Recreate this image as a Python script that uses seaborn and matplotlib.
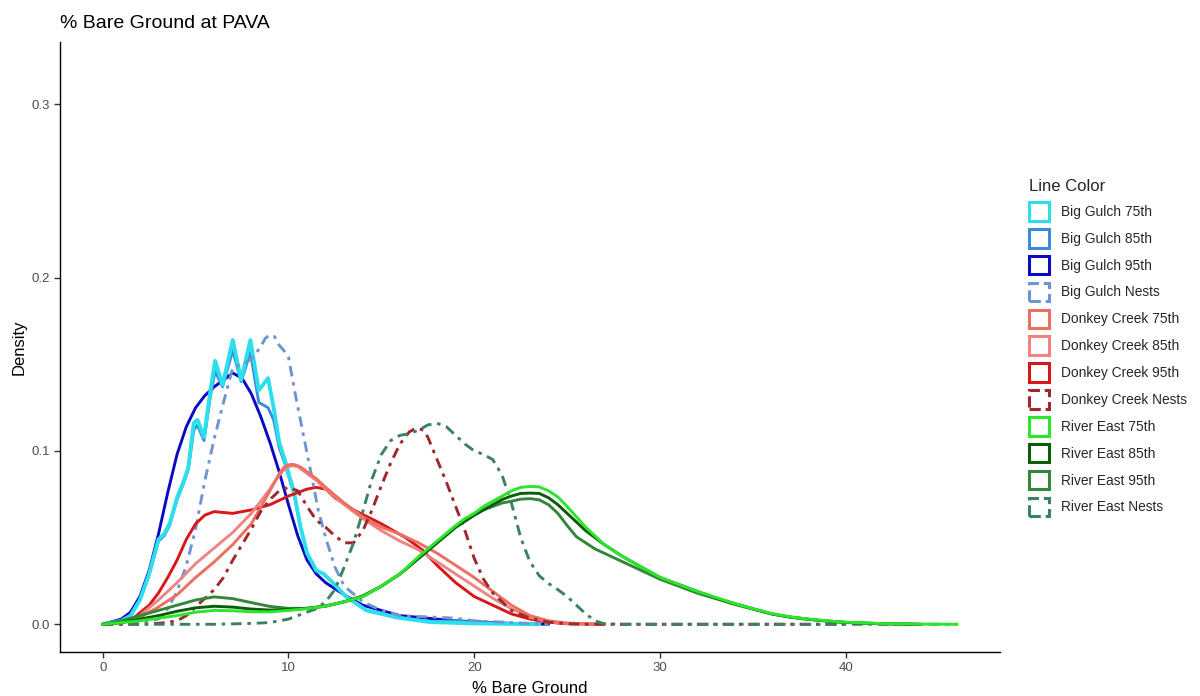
import matplotlib
matplotlib.use("Agg")
import matplotlib.pyplot as plt
from matplotlib.patches import Patch
import seaborn as sns
import pandas as pd

# ---------------- data ----------------
series_names = ["Big Gulch 75th", "Big Gulch 85th", "Big Gulch 95th", "Big Gulch Nests",
                "Donkey Creek 75th", "Donkey Creek 85th", "Donkey Creek 95th", "Donkey Creek Nests",
                "River East 75th", "River East 85th", "River East 95th", "River East Nests"]

bg75_x = [0, 1, 1.5, 2, 2.5, 3, 3.3, 3.6, 4, 4.3, 4.6, 4.9, 5.1, 5.45, 5.8, 6.05, 6.45, 7.0, 7.45, 7.95,
          8.4, 8.9, 9.2, 9.5, 9.8, 10.3, 10.65, 11.0, 11.5, 11.9, 12.3, 13.1, 14.2, 15.8, 17.6, 20, 23.5]
bg75_y = [0, 0.002, 0.005, 0.014, 0.029, 0.049, 0.052, 0.058, 0.073, 0.081, 0.09, 0.116, 0.118, 0.108,
          0.135, 0.152, 0.138, 0.164, 0.141, 0.164, 0.135, 0.142, 0.125, 0.105, 0.095, 0.076, 0.056,
          0.041, 0.031, 0.029, 0.025, 0.016, 0.008, 0.004, 0.0013, 0.0005, 0]

bg85_x = [0, 1, 1.5, 2, 2.5, 3, 3.3, 3.6, 4, 4.3, 4.6, 4.9, 5.1, 5.45, 5.8, 6.05, 6.45, 7.0, 7.45, 7.95,
          8.4, 8.9, 9.2, 9.5, 9.8, 10.3, 10.65, 11.0, 11.5, 11.9, 12.3, 13.1, 14.2, 15.8, 17.6, 19, 20, 23.5]
bg85_y = [0, 0.002, 0.005, 0.014, 0.029, 0.048, 0.051, 0.057, 0.072, 0.08, 0.089, 0.112, 0.115, 0.106,
          0.132, 0.146, 0.137, 0.158, 0.14, 0.157, 0.128, 0.125, 0.118, 0.102, 0.093, 0.075, 0.056,
          0.041, 0.031, 0.029, 0.025, 0.016, 0.008, 0.004, 0.0015, 0.002, 0.001, 0]

bg95_x = [0, 1, 1.5, 2, 2.5, 3, 3.5, 4, 4.5, 5, 5.5, 6, 6.5, 7, 7.5, 8, 8.5, 9, 9.5, 10, 10.5, 11,
          11.5, 12, 13, 14, 15, 16, 17, 18, 19, 20, 22, 24]
bg95_y = [0, 0.003, 0.007, 0.016, 0.031, 0.052, 0.076, 0.098, 0.114, 0.125, 0.132, 0.137, 0.141, 0.145,
          0.142, 0.133, 0.12, 0.105, 0.088, 0.069, 0.051, 0.037, 0.029, 0.024, 0.017, 0.011, 0.008,
          0.005, 0.004, 0.003, 0.002, 0.0015, 0.0005, 0]

bgn_x = [0, 1, 2, 3, 3.5, 4, 4.5, 5, 5.5, 6, 6.5, 7, 7.5, 8, 8.5, 8.75, 9, 9.25, 9.5, 9.75, 10, 10.4,
         10.75, 11.2, 11.6, 12, 12.5, 13, 14, 15, 16, 18, 19, 20, 22, 24]
bgn_y = [0, 0.0003, 0.001, 0.003, 0.009, 0.019, 0.034, 0.055, 0.083, 0.107, 0.128, 0.148, 0.15, 0.153,
         0.16, 0.165, 0.167, 0.166, 0.161, 0.158, 0.154, 0.131, 0.112, 0.088, 0.066, 0.05, 0.033,
         0.022, 0.013, 0.008, 0.005, 0.004, 0.0035, 0.002, 0.001, 0]

dc75_x = [0, 1, 2, 3, 4, 5, 6, 7, 8, 9, 9.5, 9.75, 10, 10.25, 10.5, 10.75, 11, 11.5, 12, 13, 14, 15,
          16, 17, 18, 19, 20, 21, 22, 23, 24, 25, 27]
dc75_y = [0, 0.001, 0.004, 0.01, 0.017, 0.027, 0.036, 0.046, 0.058, 0.077, 0.087, 0.0905, 0.092,
          0.0923, 0.0915, 0.09, 0.088, 0.084, 0.079, 0.07, 0.062, 0.056, 0.052, 0.047, 0.041, 0.034,
          0.027, 0.019, 0.011, 0.005, 0.002, 0.0007, 0]

dc85_x = [0, 1, 2, 3, 4, 5, 6, 7, 8, 9, 9.5, 9.75, 10, 10.25, 10.5, 10.75, 11, 11.5, 12, 13, 14, 15,
          16, 17, 18, 19, 20, 21, 22, 23, 24, 25, 27]
dc85_y = [0, 0.0015, 0.005, 0.014, 0.024, 0.035, 0.044, 0.053, 0.064, 0.078, 0.086, 0.089, 0.091,
          0.0915, 0.091, 0.089, 0.087, 0.083, 0.078, 0.069, 0.061, 0.054, 0.048, 0.043, 0.036,
          0.029, 0.022, 0.015, 0.009, 0.004, 0.0015, 0.0005, 0]

dc95_x = [0, 1, 1.7, 2.5, 3, 3.5, 4, 4.5, 5, 5.5, 6, 7, 8, 9, 10, 11, 11.5, 12, 12.5, 13.5, 15, 16.3,
          17.2, 18, 19, 20, 21, 22, 23, 24, 25, 27]
dc95_y = [0, 0.001, 0.004, 0.011, 0.018, 0.027, 0.037, 0.049, 0.058, 0.063, 0.065, 0.064, 0.066, 0.069,
          0.074, 0.078, 0.079, 0.078, 0.073, 0.066, 0.058, 0.05, 0.043, 0.034, 0.024, 0.016, 0.011,
          0.006, 0.003, 0.0012, 0.0003, 0]

dcn_x = [0, 2, 3, 4, 4.5, 5, 5.5, 6, 6.5, 7, 7.5, 8, 8.5, 9, 9.5, 10, 10.5, 11, 11.5, 12, 12.5, 13,
         13.5, 14, 14.5, 15, 15.5, 16, 16.5, 16.75, 17, 17.25, 17.5, 18, 18.5, 19, 19.5, 20, 20.5, 21,
         22, 23, 24, 25, 26, 40]
dcn_y = [0, 0, 0.0005, 0.002, 0.005, 0.01, 0.015, 0.02, 0.027, 0.037, 0.046, 0.055, 0.065, 0.072,
         0.077, 0.079, 0.077, 0.068, 0.06, 0.056, 0.051, 0.047, 0.047, 0.054, 0.066, 0.08, 0.093,
         0.104, 0.111, 0.1125, 0.113, 0.112, 0.108, 0.095, 0.082, 0.068, 0.054, 0.038, 0.026, 0.018,
         0.008, 0.0035, 0.0012, 0.0003, 0, 0]

re75_x = [0, 1, 2, 3, 4, 5, 6, 7, 8, 9, 10, 11, 12, 13, 14, 15, 16, 17, 18, 19, 19.5, 20, 20.5, 21,
          21.5, 22, 22.5, 23, 23.5, 24, 24.5, 25, 25.5, 26, 26.5, 27, 27.5, 28, 29, 30, 31, 32, 33, 34,
          35, 36, 37, 38, 39, 40, 42, 44, 46]
re75_y = [0, 0.001, 0.002, 0.0035, 0.005, 0.007, 0.008, 0.0078, 0.0072, 0.0072, 0.008, 0.009, 0.0105,
          0.013, 0.016, 0.022, 0.029, 0.039, 0.048, 0.057, 0.061, 0.064, 0.068, 0.071, 0.074, 0.077,
          0.079, 0.0795, 0.0793, 0.077, 0.0735, 0.068, 0.062, 0.056, 0.051, 0.046, 0.0425, 0.039,
          0.033, 0.027, 0.023, 0.019, 0.0155, 0.012, 0.009, 0.0062, 0.0043, 0.003, 0.002, 0.0012,
          0.0004, 0.0001, 0]

re85_x = [0, 1, 2, 3, 4, 5, 6, 7, 8, 9, 10, 11, 12, 13, 14, 15, 16, 17, 18, 19, 20, 20.5, 21, 21.5,
          22, 22.5, 23, 23.5, 24, 24.5, 25, 25.5, 26, 26.5, 27, 28, 29, 30, 31, 32, 33, 34, 35, 36,
          37, 38, 39, 40, 42, 44]
re85_y = [0, 0.001, 0.003, 0.005, 0.0075, 0.0095, 0.0104, 0.0099, 0.0088, 0.0082, 0.0085, 0.0092,
          0.0105, 0.013, 0.016, 0.022, 0.029, 0.038, 0.047, 0.056, 0.063, 0.066, 0.069, 0.072, 0.074,
          0.0755, 0.0757, 0.0755, 0.073, 0.069, 0.064, 0.059, 0.054, 0.05, 0.046, 0.039, 0.033,
          0.027, 0.023, 0.019, 0.0152, 0.012, 0.009, 0.006, 0.0042, 0.0029, 0.0019, 0.0011, 0.0003, 0]

re95_x = [0, 1, 2, 3, 4, 5, 6, 7, 8, 9, 10, 11, 12, 13, 14, 15, 16, 17, 18, 19, 20, 20.5, 21, 21.5,
          22, 22.5, 23, 23.5, 24, 24.5, 25, 25.5, 26, 26.5, 27, 28, 29, 30, 31, 32, 33, 34, 35, 36,
          37, 38, 39, 40, 42, 44]
re95_y = [0, 0.002, 0.005, 0.008, 0.011, 0.014, 0.0158, 0.0148, 0.0125, 0.0103, 0.0092, 0.0092,
          0.0105, 0.013, 0.0165, 0.022, 0.029, 0.038, 0.047, 0.056, 0.063, 0.066, 0.068, 0.07, 0.071,
          0.0722, 0.0725, 0.0718, 0.069, 0.064, 0.057, 0.0505, 0.047, 0.0435, 0.041, 0.036, 0.031,
          0.026, 0.022, 0.018, 0.0148, 0.0115, 0.0087, 0.006, 0.0041, 0.0028, 0.0018, 0.001,
          0.0003, 0]

ren_x = [0, 2, 4, 6, 8, 9, 10, 11, 11.5, 12, 12.5, 13, 13.5, 14, 14.5, 15, 15.5, 16, 16.5, 17, 17.5,
         18, 18.5, 19, 19.5, 20, 20.5, 21, 21.5, 22, 22.5, 23, 23.5, 24, 24.5, 25, 25.5, 26, 26.5, 27,
         28, 46]
ren_y = [0, 0, 0, 0, 0.0005, 0.001, 0.003, 0.007, 0.009, 0.013, 0.02, 0.033, 0.047, 0.065, 0.084,
         0.098, 0.106, 0.109, 0.11, 0.112, 0.115, 0.116, 0.114, 0.109, 0.104, 0.1, 0.098, 0.095,
         0.086, 0.07, 0.05, 0.036, 0.028, 0.0235, 0.02, 0.016, 0.011, 0.006, 0.002, 0.0003, 0, 0]

x_ticks = [0, 10, 20, 30, 40]
y_ticks = [0.0, 0.1, 0.2, 0.3]
y_tick_labels = ["0.0", "0.1", "0.2", "0.3"]

# ---------------- styling ----------------
colors = {
    "Big Gulch 75th": "#2BE0EC", "Big Gulch 85th": "#3A8BDE", "Big Gulch 95th": "#0A0AC4",
    "Big Gulch Nests": "#6E95D3",
    "Donkey Creek 75th": "#EC7060", "Donkey Creek 85th": "#F08484", "Donkey Creek 95th": "#D81818",
    "Donkey Creek Nests": "#A0282D",
    "River East 75th": "#2BE62B", "River East 85th": "#0A5E0A", "River East 95th": "#34873A",
    "River East Nests": "#3A8262",
}
dashdot = (0, (3.6, 2.0, 1.2, 2.0))

curves = {
    "Big Gulch 95th": (bg95_x, bg95_y), "Big Gulch 85th": (bg85_x, bg85_y),
    "Big Gulch 75th": (bg75_x, bg75_y), "Big Gulch Nests": (bgn_x, bgn_y),
    "Donkey Creek 75th": (dc75_x, dc75_y), "Donkey Creek 85th": (dc85_x, dc85_y),
    "Donkey Creek 95th": (dc95_x, dc95_y), "Donkey Creek Nests": (dcn_x, dcn_y),
    "River East 75th": (re75_x, re75_y), "River East 85th": (re85_x, re85_y),
    "River East 95th": (re95_x, re95_y), "River East Nests": (ren_x, ren_y),
}
draw_order = ["Big Gulch 95th", "Big Gulch 85th", "Big Gulch 75th", "Big Gulch Nests",
              "Donkey Creek 95th", "Donkey Creek 85th", "Donkey Creek 75th", "Donkey Creek Nests",
              "River East Nests", "River East 95th", "River East 85th", "River East 75th"]

sns.set_theme(style="ticks")
plt.rcParams['font.family'] = ['Liberation Sans', 'DejaVu Sans']

fig = plt.figure(figsize=(12, 6.96), dpi=100)
ax = fig.add_axes([0.05, 0.0632, 0.7833, 0.8765])

for name in draw_order:
    xs, ys = curves[name]
    df = pd.DataFrame({"x": xs, "y": ys})
    is_nest = name.endswith("Nests")
    lw = 2.1
    if name == "Big Gulch 75th":
        lw = 2.8
    kws = dict(color=colors[name], linewidth=lw, solid_joinstyle="round",
               solid_capstyle="round", dash_joinstyle="round")
    if is_nest:
        kws["linestyle"] = dashdot
    sns.lineplot(data=df, x="x", y="y", ax=ax, estimator=None, sort=False, **kws)

ax.set_xlim(-2.3, 48.3)
ax.set_ylim(-0.016, 0.336)
ax.set_xticks(x_ticks)
ax.set_xticklabels([str(t) for t in x_ticks])
ax.set_yticks(y_ticks)
ax.set_yticklabels(y_tick_labels)
ax.tick_params(axis="both", colors="#333333", labelcolor="#4D4D4D", labelsize=9.5,
               length=4, width=1, direction="out")
for s in ["top", "right"]:
    ax.spines[s].set_visible(False)
for s in ["left", "bottom"]:
    ax.spines[s].set_color("black")
    ax.spines[s].set_linewidth(1.0)
ax.set_xlabel("% Bare Ground", fontsize=12, color="black", labelpad=5)
ax.set_ylabel("Density", fontsize=12, color="black", labelpad=3.5)
ax.set_title("% Bare Ground at PAVA", fontsize=14, loc="left", x=0.0, y=1.0, pad=10, color="black")

handles = []
for name in series_names:
    ls = "--" if name.endswith("Nests") else "-"
    handles.append(Patch(facecolor="white", edgecolor=colors[name], linewidth=2.2, linestyle=ls,
                         label=name))
leg = fig.legend(handles=handles, loc="upper left", bbox_to_anchor=(0.853, 0.751),
                 frameon=False, title="Line Color", fontsize=9.9, title_fontsize=12,
                 handlelength=1.45, handleheight=1.69, labelspacing=0.61, handletextpad=0.85,
                 alignment="left", borderaxespad=0)

fig.savefig("out.png", dpi=100)
